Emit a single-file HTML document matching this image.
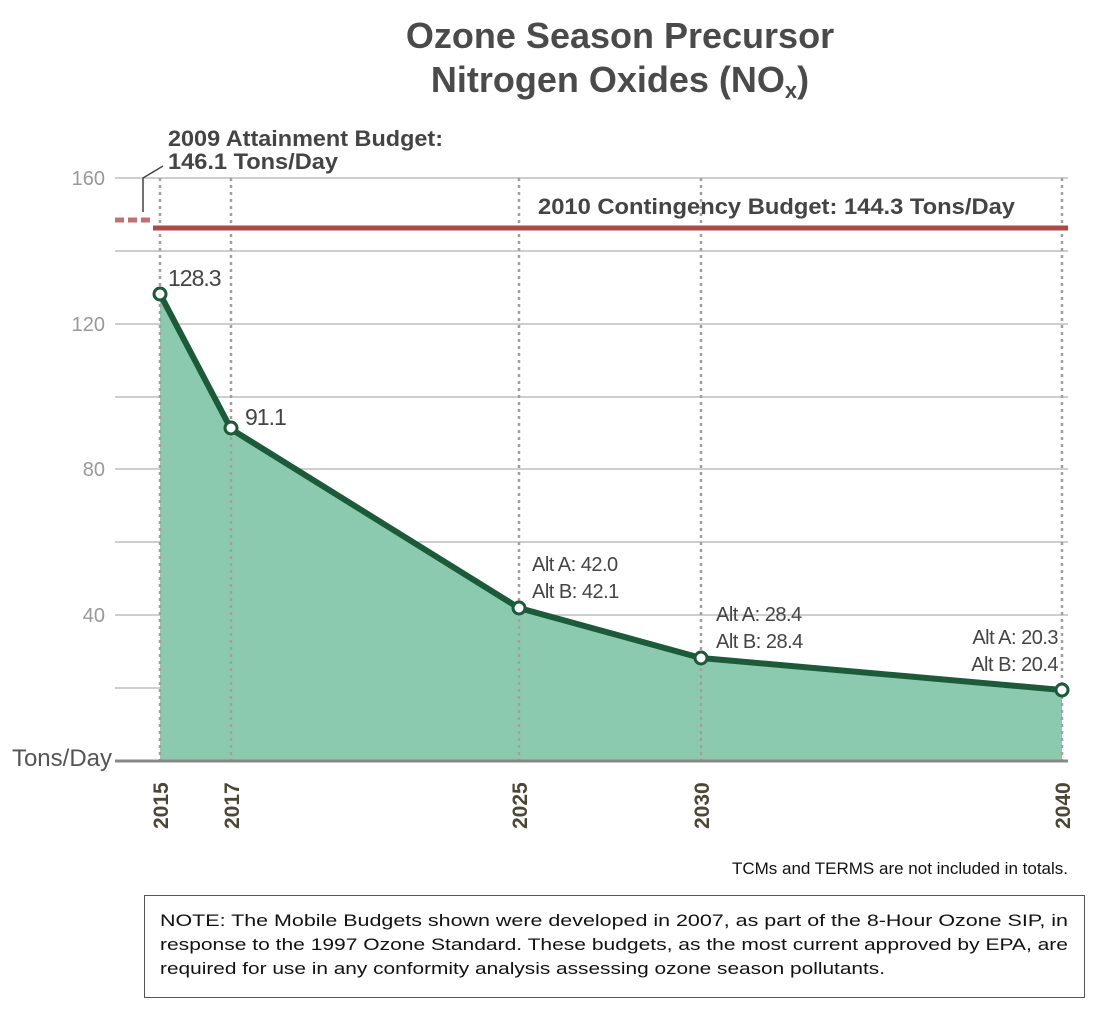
<!DOCTYPE html>
<html><head><meta charset="utf-8"><style>
html,body{margin:0;padding:0;background:#fff;}
body{width:1100px;height:1020px;position:relative;overflow:hidden;font-family:"Liberation Sans",sans-serif;}
</style></head><body>
<svg width="1100" height="1020" xmlns="http://www.w3.org/2000/svg" style="position:absolute;left:0;top:0">
<g font-family="Liberation Sans, sans-serif">
<text x="620" y="48" text-anchor="middle" font-size="36" font-weight="bold" fill="#4a4a4a">Ozone Season Precursor</text>
<text x="620" y="92" text-anchor="middle" font-size="36" font-weight="bold" fill="#4a4a4a">Nitrogen Oxides (NO<tspan font-size="22" dy="6">x</tspan><tspan dy="-6">)</tspan></text>
<g stroke="#b0b0b0" stroke-width="1.2">
<line x1="115" y1="178" x2="1068" y2="178"/>
<line x1="115" y1="251" x2="1068" y2="251"/>
<line x1="115" y1="324" x2="1068" y2="324"/>
<line x1="115" y1="397" x2="1068" y2="397"/>
<line x1="115" y1="469" x2="1068" y2="469"/>
<line x1="115" y1="542" x2="1068" y2="542"/>
<line x1="115" y1="615" x2="1068" y2="615"/>
<line x1="115" y1="688" x2="1068" y2="688"/>
</g>
<g font-size="20" fill="#999" text-anchor="end">
<text x="105" y="185">160</text>
<text x="105" y="331">120</text>
<text x="105" y="476">80</text>
<text x="105" y="622">40</text>
</g>
<text x="112" y="766" font-size="24" fill="#555" text-anchor="end">Tons/Day</text>
<polygon points="160,294 231,429 519,608 701,658 1062,690 1062,761 160,761" fill="#8ccab0"/>
<g stroke="#a0a0a0" stroke-width="2.5" stroke-dasharray="3,4">
<line x1="160" y1="178" x2="160" y2="761"/>
<line x1="231" y1="178" x2="231" y2="761"/>
<line x1="519" y1="178" x2="519" y2="761"/>
<line x1="701" y1="178" x2="701" y2="761"/>
<line x1="1062" y1="178" x2="1062" y2="761"/>
</g>
<line x1="115" y1="761" x2="1068" y2="761" stroke="#888" stroke-width="3"/>
<line x1="115" y1="220" x2="153" y2="220" stroke="#c07070" stroke-width="5" stroke-dasharray="9,4"/>
<line x1="153" y1="228" x2="1068" y2="228" stroke="#b04848" stroke-width="5"/>
<polyline points="143,212 143,178 163,166" fill="none" stroke="#444" stroke-width="1.5"/>
<text x="168" y="146" font-size="22" font-weight="bold" fill="#444" textLength="275" lengthAdjust="spacingAndGlyphs">2009 Attainment Budget:</text>
<text x="168" y="169" font-size="22" font-weight="bold" fill="#444" textLength="170" lengthAdjust="spacingAndGlyphs">146.1 Tons/Day</text>
<text x="538" y="214" font-size="22" font-weight="bold" fill="#444" textLength="477" lengthAdjust="spacingAndGlyphs">2010 Contingency Budget: 144.3 Tons/Day</text>
<polyline points="160,294 231,429 519,608 701,658 1062,690" fill="none" stroke="#1c5a3a" stroke-width="6" stroke-linejoin="round"/>
<g fill="#fff" stroke="#1c5a3a" stroke-width="3">
<circle cx="160" cy="294" r="6"/><circle cx="231" cy="428" r="6"/><circle cx="519" cy="608" r="6"/><circle cx="701" cy="658" r="6"/><circle cx="1062" cy="690" r="6"/>
</g>
<g font-size="23" fill="#444" letter-spacing="-1">
<text x="168" y="286">128.3</text>
<text x="245" y="425">91.1</text>
</g>
<g font-size="20" fill="#444" letter-spacing="-0.5">
<text x="532" y="571">Alt A: 42.0</text>
<text x="532" y="598">Alt B: 42.1</text>
<text x="716" y="621">Alt A: 28.4</text>
<text x="716" y="648">Alt B: 28.4</text>
<text x="1058" y="644" text-anchor="end">Alt A: 20.3</text>
<text x="1058" y="671" text-anchor="end">Alt B: 20.4</text>
</g>
<g font-size="21" font-weight="bold" fill="#4a4535">
<text transform="translate(168,829) rotate(-90)">2015</text>
<text transform="translate(239,829) rotate(-90)">2017</text>
<text transform="translate(527,829) rotate(-90)">2025</text>
<text transform="translate(709,829) rotate(-90)">2030</text>
<text transform="translate(1070,829) rotate(-90)">2040</text>
</g>
<text x="1068" y="874" font-size="17" fill="#111" text-anchor="end">TCMs and TERMS are not included in totals.</text>
<rect x="144.5" y="895.5" width="940" height="102" fill="none" stroke="#555" stroke-width="1"/>
<g font-size="17" fill="#111">
<text x="160" y="926" textLength="908" lengthAdjust="spacingAndGlyphs">NOTE: The Mobile Budgets shown were developed in 2007, as part of the 8-Hour Ozone SIP, in</text>
<text x="160" y="950" textLength="908" lengthAdjust="spacingAndGlyphs">response to the 1997 Ozone Standard.  These budgets, as the most current approved by EPA, are</text>
<text x="160" y="974" textLength="725" lengthAdjust="spacingAndGlyphs">required for use in any conformity analysis assessing ozone season pollutants.</text>
</g>
</g>
</svg>
</body></html>
